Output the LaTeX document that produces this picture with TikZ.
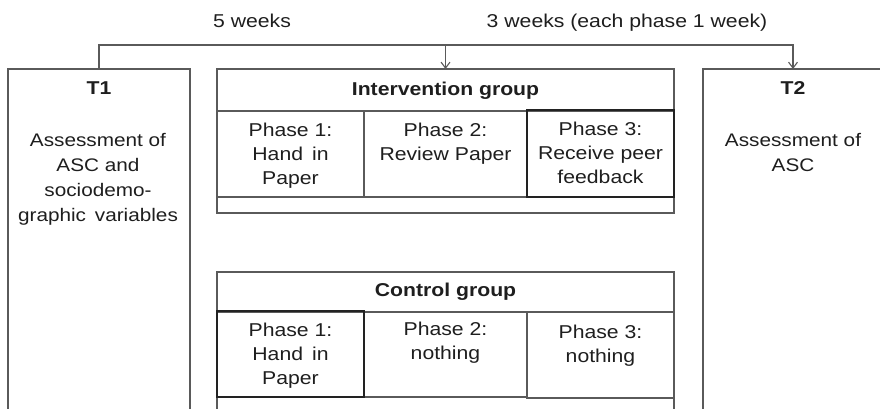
\documentclass[tikz,border=0pt]{standalone}
\usepackage{fontspec}
\setmainfont{Liberation Sans}[FakeStretch=1.14]
\usetikzlibrary{arrows.meta}
\definecolor{linegray}{HTML}{5A5A5A}
\definecolor{darkline}{HTML}{222222}
\definecolor{txtgray}{HTML}{1E1E1E}
\begin{document}
\begin{tikzpicture}[x=1pt,y=-1pt,
  cell/.style={draw=linegray, line width=1.1pt, inner sep=0pt, outer sep=0pt, anchor=north west},
  darkcell/.style={cell, draw=darkline, line width=1.5pt},
  txt/.style={inner sep=0pt, outer sep=0pt, text=txtgray, align=center, font=\fontsize{18.6}{24}\selectfont},
  sidetxt/.style={txt, font=\fontsize{18.2}{25}\selectfont},
  title/.style={txt, font=\fontsize{18.6}{24}\selectfont\bfseries},
  conn/.style={draw=linegray, line width=1.1pt},
  tip/.style={-{Straight Barb[length=6pt,width=9pt]}}
]
\useasboundingbox (0,0) rectangle (880,409);
\clip (0,0) rectangle (880,409);

% timeline labels
\node[txt, anchor=base] (w5) at (252,27.7) {5 weeks};
\node[txt, anchor=base] (w3) at (627,27.7) {3 weeks (each phase 1 week)};

% T1 and T2
\node[cell, minimum width=182, minimum height=351] (t1) at (8,69) {};
\node[title, anchor=base] (t1title) at (99,94.7) {T1};
\node[sidetxt, anchor=north] (t1text) at (98,133.8) {Assessment of\\ASC and\\sociodemo-\\graphic\, variables};

\node[cell, minimum width=180, minimum height=351] (t2) at (703,69) {};
\node[title, anchor=base] (t2title) at (793,94.7) {T2};
\node[sidetxt, anchor=north] (t2text) at (793,133.8) {Assessment of\\ASC};

% intervention group
\node[cell, minimum width=457, minimum height=144] (ibox) at (217,69) {};
\node[cell, minimum width=457, minimum height=42] (ihead) at (217,69) {};
\node[title, anchor=base] (ititle) at (445.5,95.7) {Intervention group};
\node[cell, minimum width=147, minimum height=86] (ic1) at (217,111) {};
\node[cell, minimum width=163, minimum height=86] (ic2) at (364,111) {};
\node[darkcell, minimum width=147, minimum height=87] (ic3) at (527,110) {};
\node[txt, anchor=north] (ic1t) at (290.5,123.3) {Phase 1:\\Hand\, in\\Paper};
\node[txt, anchor=north] (ic2t) at (445.5,123.3) {Phase 2:\\Review Paper};
\node[txt, anchor=north] (ic3t) at (600.5,122.5) {Phase 3:\\Receive peer\\feedback};

% control group
\node[cell, minimum width=457, minimum height=150] (cbox) at (217,272) {};
\node[cell, minimum width=457, minimum height=40] (chead) at (217,272) {};
\node[title, anchor=base] (ctitle) at (445.5,296.7) {Control group};
\node[cell, minimum width=163, minimum height=85] (cc2) at (364,312) {};
\node[cell, minimum width=147, minimum height=86] (cc3) at (527,312) {};
\node[darkcell, minimum width=147, minimum height=86] (cc1) at (217,311) {};
\node[txt, anchor=north] (cc1t) at (290.5,323.3) {Phase 1:\\Hand\, in\\Paper};
\node[txt, anchor=north] (cc2t) at (445.5,322.5) {Phase 2:\\nothing};
\node[txt, anchor=north] (cc3t) at (600.5,325.3) {Phase 3:\\nothing};

% connectors
\coordinate (split) at (445.5,45);
\draw[conn, tip] (t1.north) |- (split) -- (ihead.north);
\draw[conn, tip] (split) -| (t2.north);
\end{tikzpicture}
\end{document}
